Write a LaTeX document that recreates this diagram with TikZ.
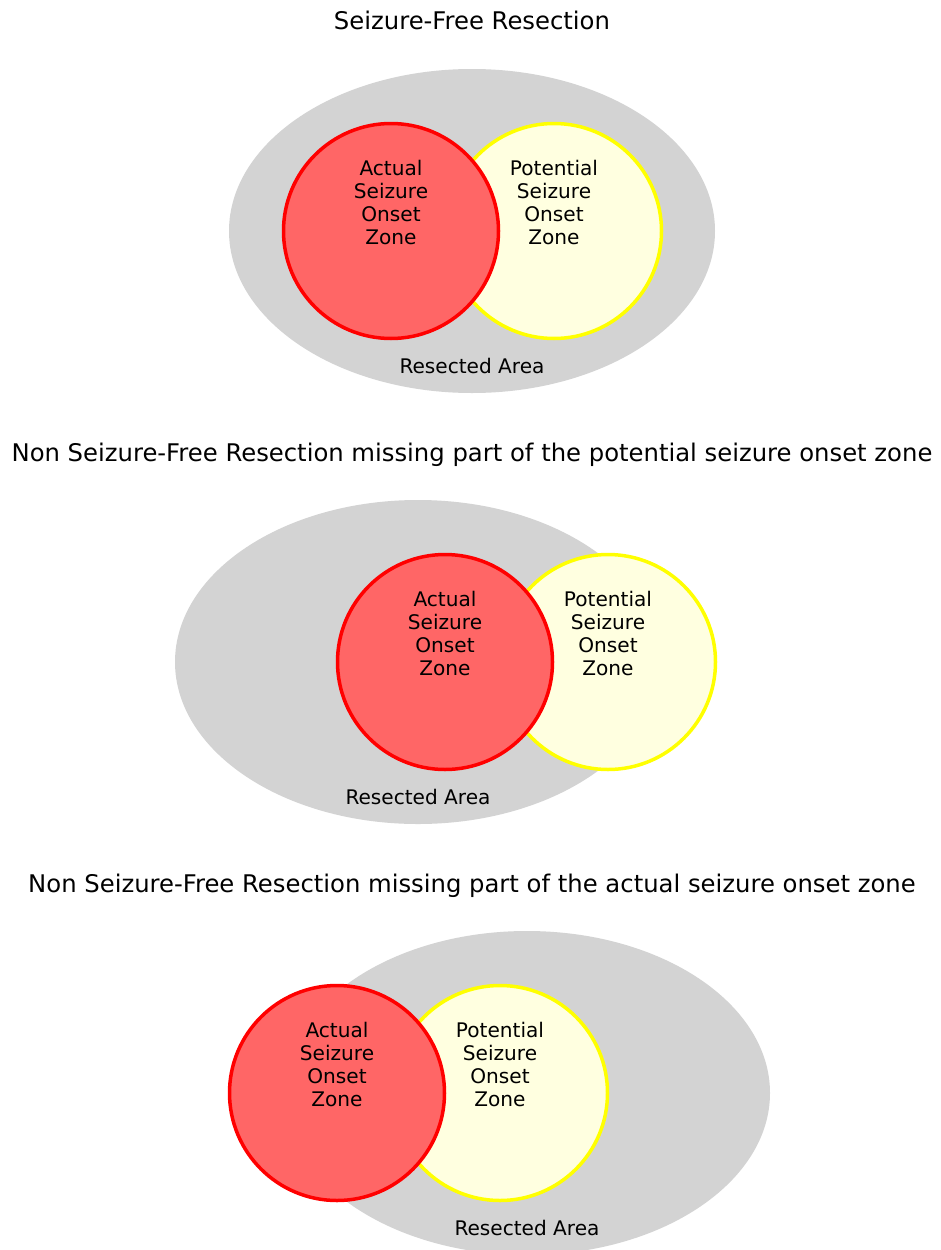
\documentclass[tikz,border=0pt]{standalone}
\usepackage{fontspec}
\setmainfont{DejaVu Sans}
\usetikzlibrary{shapes.geometric}
\definecolor{areagray}{HTML}{D3D3D3}
\definecolor{asozred}{HTML}{FF6666}
\definecolor{psozyellow}{HTML}{FFFFE0}
\definecolor{psozline}{HTML}{FFFF00}
\begin{document}
\begin{tikzpicture}[x=1pt,y=-1pt]
    \tikzset{ttl/.style={anchor=base,inner sep=0,font=\fontsize{24.3}{28}\selectfont},
             lbl/.style={anchor=base,inner sep=0,align=center,font=\fontsize{20.1}{22.7}\selectfont},
             area/.style={ellipse,fill=areagray,minimum width=486,minimum height=324,inner sep=0},
             asoz/.style={circle,draw=red,fill=asozred,line width=3.5,minimum size=215,inner sep=0},
             psoz/.style={circle,draw=psozline,fill=psozyellow,line width=3.5,minimum size=215,inner sep=0}}
    \useasboundingbox (0,0) rectangle (940,1250);
    \fill[white] (0,0) rectangle (940,1250);
    % seizure-free
    \node[ttl] (t1) at (472,29) {Seizure-Free Resection};
    \node[area] (r1) at (472,231) {};
    \node[psoz] (p1) at (554,231) {};
    \node[asoz] (a1) at (391,231) {};
    \node[lbl] (ta1) at (391,244) {Actual\\Seizure\\Onset\\Zone};
    \node[lbl] (tp1) at (554,244) {Potential\\Seizure\\Onset\\Zone};
    \node[lbl] (tr1) at (472,373) {Resected Area};
    % missing part of the potential zone
    \node[ttl] (t2) at (472,461) {Non Seizure-Free Resection missing part of the potential seizure onset zone};
    \node[area] (r2) at (418,662) {};
    \node[psoz] (p2) at (608,662) {};
    \node[asoz] (a2) at (445,662) {};
    \node[lbl] (ta2) at (445,675) {Actual\\Seizure\\Onset\\Zone};
    \node[lbl] (tp2) at (608,675) {Potential\\Seizure\\Onset\\Zone};
    \node[lbl] (tr2) at (418,804) {Resected Area};
    % missing part of the actual zone
    \node[ttl] (t3) at (472,892) {Non Seizure-Free Resection missing part of the actual seizure onset zone};
    \node[area] (r3) at (527,1093) {};
    \node[psoz] (p3) at (500,1093) {};
    \node[asoz] (a3) at (337,1093) {};
    \node[lbl] (ta3) at (337,1106) {Actual\\Seizure\\Onset\\Zone};
    \node[lbl] (tp3) at (500,1106) {Potential\\Seizure\\Onset\\Zone};
    \node[lbl] (tr3) at (527,1235) {Resected Area};
\end{tikzpicture}
\end{document}
